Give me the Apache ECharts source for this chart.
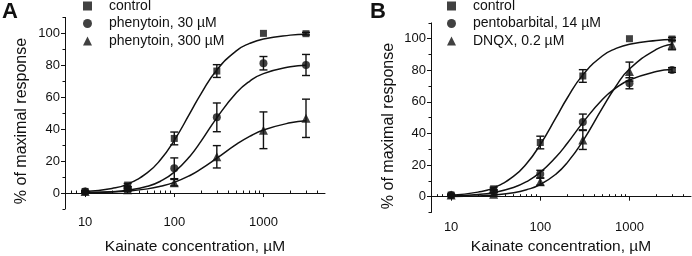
<!DOCTYPE html>
<html>
<head>
<meta charset="utf-8">
<script src="https://cdn.jsdelivr.net/npm/echarts@6/dist/echarts.min.js"></script>
<style>
html, body { margin: 0; padding: 0; background: #fff; }
#chart { width: 692px; height: 256px; }
</style>
</head>
<body>
<div id="chart"></div>
<script>
// concentrations (µM) of the measured points and of the fitted curves
var conc = [10, 30, 100, 300, 1000, 3000];
var fitConc = [10, 20, 30, 50, 70, 100, 150, 200, 300, 500, 700, 1000, 2000, 3000];

// axis ticks
var xMajorTicks = [10, 100, 1000];
var xMinorTicks = [6, 7, 8, 9, 20, 30, 40, 50, 60, 70, 80, 90, 200, 300, 400, 500, 600, 700, 800, 900, 2000, 3000, 4000];
var yMajorTicks = [0, 20, 40, 60, 80, 100];
var yMinorTicks = [-10, 10, 30, 50, 70, 90, 110];

// panel A
var controlA = [1, 5, 34.2, 76.4, 100, 99.8];
var controlAErr = [0.5, 1, 4, 4, 0, 0.8];
var phen30 = [1, 3, 15.5, 47.4, 81.3, 80.2];
var phen30Err = [0.5, 1, 6.5, 9, 4.2, 6.6];
var phen300 = [1, 2, 6.5, 22.7, 39.3, 46.8];
var phen300Err = [0.3, 1, 2, 7, 11.5, 12];

var controlAFit = [0.9, 2.9, 5.6, 12.8, 20.8, 33, 50, 62.3, 77.1, 89.2, 93.7, 96.5, 98.9, 99.5];
var phen30Fit = [0.25, 0.85, 1.75, 4.2, 7.4, 13.1, 23.1, 32.5, 47.1, 62.9, 70, 74.8, 79.1, 80.1];
var phen300Fit = [0.25, 0.7, 1.25, 2.6, 4.2, 6.7, 11, 15.1, 21.8, 30.6, 35.5, 39.5, 44, 45.3];

// panel B
var controlB = [1, 5, 34.3, 76.4, 100, 99.8];
var controlBErr = [0.5, 1, 4, 4, 0, 1];
var pento = [1, 3.5, 14.3, 47.3, 71.8, 80.2];
var pentoErr = [0.5, 1, 2.4, 5, 3.5, 1.5];
var dnqx = [1, 1.5, 9.5, 35.9, 79.2, 96];
var dnqxErr = [0.3, 1, 2.2, 6, 6, 3];

var controlBFit = [0.9, 2.9, 5.6, 12.8, 20.8, 33, 50, 62.3, 77.1, 89.2, 93.7, 96.5, 98.9, 99.5];
var pentoFit = [0.5, 1.4, 2.7, 5.8, 9.5, 15.4, 25.1, 33.7, 46.9, 61.7, 68.7, 73.9, 79.2, 80.5];
var dnqxFit = [0.2, 0.5, 1.1, 2.5, 4.4, 7.7, 14.3, 21.4, 35.2, 56.4, 69.6, 80.8, 93.2, 96.5];

var FONT = 'Liberation Sans';
var INK = '#111';
var X_MIN = Math.log10(5.95), X_MAX = Math.log10(4900);
var Y_TITLE = '% of maximal response';

function lg(v) { return Math.log10(v); }

function pairs(xs, ys) {
	return xs.map(function (c, i) { return [lg(c), ys[i]]; });
}

function errPairs(ys, es) {
	return conc.map(function (c, i) { return [lg(c), ys[i], es[i]]; });
}

function renderErr(params, api) {
	var x = api.value(0), y = api.value(1), e = api.value(2);
	if (!e) return;
	var top = api.coord([x, y + e]);
	var bot = api.coord([x, y - e]);
	var w = 4;
	var st = { stroke: INK, lineWidth: 1.4 };
	return {
		type: 'group',
		children: [
			{ type: 'line', shape: { x1: top[0], y1: top[1], x2: bot[0], y2: bot[1] }, style: st },
			{ type: 'line', shape: { x1: top[0] - w, y1: top[1], x2: top[0] + w, y2: top[1] }, style: st },
			{ type: 'line', shape: { x1: bot[0] - w, y1: bot[1], x2: bot[0] + w, y2: bot[1] }, style: st }
		]
	};
}

function xAxes(grid, labelMargin, nameGap) {
	return [{
		type: 'value', gridIndex: grid, min: X_MIN, max: X_MAX,
		name: 'Kainate concentration, µM', nameLocation: 'middle', nameGap: nameGap,
		nameTextStyle: { fontFamily: FONT, fontSize: 15.5, color: INK },
		axisLine: { show: true, lineStyle: { color: INK, width: 1 } },
		axisTick: { show: true, inside: false, length: 4, customValues: xMajorTicks.map(lg), lineStyle: { color: INK } },
		axisLabel: {
			customValues: xMajorTicks.map(lg), margin: labelMargin,
			fontFamily: FONT, fontSize: 13, color: INK,
			formatter: function (v) { return String(Math.round(Math.pow(10, v))); }
		},
		splitLine: { show: false }
	}, {
		type: 'value', gridIndex: grid, min: X_MIN, max: X_MAX,
		axisLine: { show: false },
		axisTick: { show: true, inside: false, length: 2.5, customValues: xMinorTicks.map(lg), lineStyle: { color: INK } },
		axisLabel: { show: false },
		splitLine: { show: false }
	}];
}

function yAxes(grid) {
	return [{
		type: 'value', gridIndex: grid, min: -10, max: 110, position: 'left',
		axisLine: { show: true, lineStyle: { color: INK, width: 1 } },
		axisTick: { show: true, inside: false, length: 4, customValues: yMajorTicks, lineStyle: { color: INK } },
		axisLabel: { customValues: yMajorTicks, margin: 5, fontFamily: FONT, fontSize: 13, color: INK },
		splitLine: { show: false }
	}, {
		type: 'value', gridIndex: grid, min: -10, max: 110, position: 'left', offset: 0,
		axisLine: { show: false },
		axisTick: { show: true, inside: false, length: 2.5, customValues: yMinorTicks, lineStyle: { color: INK } },
		axisLabel: { show: false },
		splitLine: { show: false }
	}];
}

function fitLine(xi, yi, ys) {
	return {
		type: 'line', xAxisIndex: xi, yAxisIndex: yi, data: pairs(fitConc, ys),
		smooth: 0.5, symbol: 'none', silent: true, z: 2,
		lineStyle: { color: INK, width: 1.5 }
	};
}

function errBars(xi, yi, ys, es) {
	return {
		type: 'custom', xAxisIndex: xi, yAxisIndex: yi, data: errPairs(ys, es),
		encode: { x: 0, y: 1 }, renderItem: renderErr, silent: true, z: 3
	};
}

function points(name, xi, yi, ys, symbol, size) {
	return {
		name: name, type: 'scatter', xAxisIndex: xi, yAxisIndex: yi, data: pairs(conc, ys),
		symbol: symbol, symbolSize: size, itemStyle: { color: INK }, z: 4
	};
}

function legend(left, names) {
	var icons = ['rect', 'circle', 'triangle'];
	return {
		orient: 'vertical', left: left, top: -1, itemWidth: 9, itemHeight: 9, itemGap: 3.5,
		selectedMode: false, padding: 0,
		textStyle: { fontFamily: FONT, fontSize: 14, color: INK, lineHeight: 14, padding: [0, 0, 0, 12] },
		data: names.map(function (n, i) { return { name: n, icon: icons[i] }; })
	};
}

function yTitle(x, y) {
	return {
		type: 'text', x: x, y: y, rotation: Math.PI / 2, silent: true,
		style: { text: Y_TITLE, fontFamily: FONT, fontSize: 16, fill: INK, align: 'center', verticalAlign: 'middle' }
	};
}

var chart = echarts.init(document.getElementById('chart'));
chart.setOption({
	animation: false,
	backgroundColor: '#fff',
	title: [
		{ text: 'A', left: 2, top: 1, padding: 0, textStyle: { fontFamily: FONT, fontSize: 22, fontWeight: 'bold', color: INK } },
		{ text: 'B', left: 370, top: 1, padding: 0, textStyle: { fontFamily: FONT, fontSize: 22, fontWeight: 'bold', color: INK } }
	],
	legend: [
		legend(83, ['control', 'phenytoin, 30 µM', 'phenytoin, 300 µM']),
		legend(447, ['control ', 'pentobarbital, 14 µM', 'DNQX, 0.2 µM'])
	],
	graphic: [yTitle(22, 121), yTitle(389, 126)],
	grid: [
		{ left: 65, width: 260, top: 17.4, height: 191.6, outerBoundsMode: 'none' },
		{ left: 431, width: 260, top: 22.9, height: 189.6, outerBoundsMode: 'none' }
	],
	xAxis: xAxes(0, 7, 30).concat(xAxes(1, 8, 26)),
	yAxis: yAxes(0).concat(yAxes(1)),
	series: [
		fitLine(0, 0, controlAFit),
		fitLine(0, 0, phen30Fit),
		fitLine(0, 0, phen300Fit),
		errBars(0, 0, controlA, controlAErr),
		errBars(0, 0, phen30, phen30Err),
		errBars(0, 0, phen300, phen300Err),
		points('control', 0, 0, controlA, 'rect', 7),
		points('phenytoin, 30 µM', 0, 0, phen30, 'circle', 8),
		points('phenytoin, 300 µM', 0, 0, phen300, 'triangle', 9),

		fitLine(2, 2, controlBFit),
		fitLine(2, 2, pentoFit),
		fitLine(2, 2, dnqxFit),
		errBars(2, 2, controlB, controlBErr),
		errBars(2, 2, pento, pentoErr),
		errBars(2, 2, dnqx, dnqxErr),
		points('control ', 2, 2, controlB, 'rect', 7),
		points('pentobarbital, 14 µM', 2, 2, pento, 'circle', 8),
		points('DNQX, 0.2 µM', 2, 2, dnqx, 'triangle', 9)
	]
});
</script>
</body>
</html>
